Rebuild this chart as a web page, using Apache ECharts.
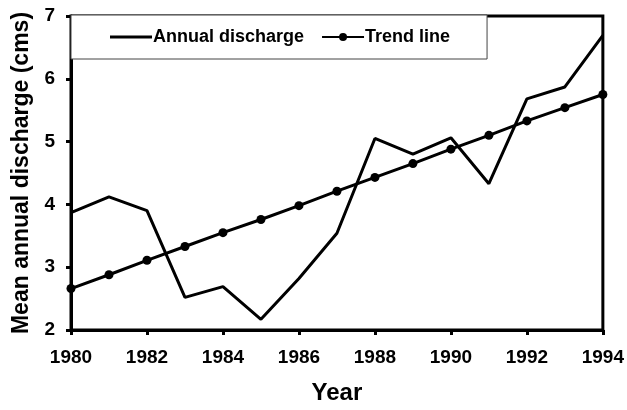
<!DOCTYPE html>
<html>
<head>
<meta charset="utf-8">
<script src="https://cdn.jsdelivr.net/npm/echarts@6/dist/echarts.min.js"></script>
<style>
  html, body { margin: 0; padding: 0; background: #fff; }
  #chart { width: 627px; height: 410px; }
</style>
</head>
<body>
<div id="chart"></div>
<script>
const years = [1980, 1981, 1982, 1983, 1984, 1985, 1986, 1987, 1988, 1989, 1990, 1991, 1992, 1993, 1994];
const annualDischarge = [3.87, 4.12, 3.90, 2.52, 2.69, 2.17, 2.82, 3.54, 5.05, 4.80, 5.06, 4.33, 5.68, 5.87, 6.69];
const trendLine = [2.66, 2.88, 3.11, 3.33, 3.55, 3.76, 3.98, 4.21, 4.43, 4.65, 4.88, 5.10, 5.33, 5.54, 5.75];

const font = 'Liberation Sans, Arial, sans-serif';
const chart = echarts.init(document.getElementById('chart'));

chart.setOption({
  animation: false,
  backgroundColor: '#fff',
  grid: {
    left: 71, right: 24, top: 16, bottom: 77,
    show: true, borderColor: '#000', borderWidth: 3
  },
  legend: {
    left: 71, top: 15,
    padding: [13, 37, 13, 39],
    itemGap: 17,
    itemWidth: 42,
    itemHeight: 10,
    backgroundColor: '#fff',
    borderColor: '#444',
    borderWidth: 1,
    textStyle: { fontFamily: font, fontWeight: 'bold', fontSize: 18, color: '#000', padding: [0, 0, 0, -4] },
    data: [
      { name: 'Annual discharge', icon: 'path://M0,0L42,0L42,3L0,3Z' },
      { name: 'Trend line' }
    ]
  },
  xAxis: {
    type: 'value',
    min: 1980, max: 1994, interval: 2,
    name: 'Year',
    nameLocation: 'middle',
    nameGap: 51,
    nameTextStyle: { fontFamily: font, fontWeight: 'bold', fontSize: 24, color: '#000' },
    axisLine: { lineStyle: { color: '#000', width: 3 } },
    axisTick: { show: true, length: 5, lineStyle: { color: '#000', width: 3 } },
    axisLabel: { formatter: v => String(v), margin: 18, fontFamily: font, fontWeight: 'bold', fontSize: 19, color: '#000' },
    splitLine: { show: false }
  },
  yAxis: {
    type: 'value',
    min: 2, max: 7, interval: 1,
    name: 'Mean annual discharge (cms)',
    nameLocation: 'middle',
    nameGap: 37,
    nameTextStyle: { fontFamily: font, fontWeight: 'bold', fontSize: 23, color: '#000' },
    axisLine: { show: true, lineStyle: { color: '#000', width: 3 } },
    axisTick: { show: true, length: 5, lineStyle: { color: '#000', width: 3 } },
    axisLabel: { margin: 16, fontFamily: font, fontWeight: 'bold', fontSize: 19, color: '#000' },
    splitLine: { show: false }
  },
  series: [
    {
      name: 'Annual discharge',
      type: 'line',
      data: years.map((y, i) => [y, annualDischarge[i]]),
      symbol: 'none',
      lineStyle: { color: '#000', width: 3 },
      itemStyle: { color: '#000' }
    },
    {
      name: 'Trend line',
      type: 'line',
      data: years.map((y, i) => [y, trendLine[i]]),
      symbol: 'circle',
      symbolSize: 9,
      lineStyle: { color: '#000', width: 3 },
      itemStyle: { color: '#000' }
    }
  ]
});
</script>
</body>
</html>
